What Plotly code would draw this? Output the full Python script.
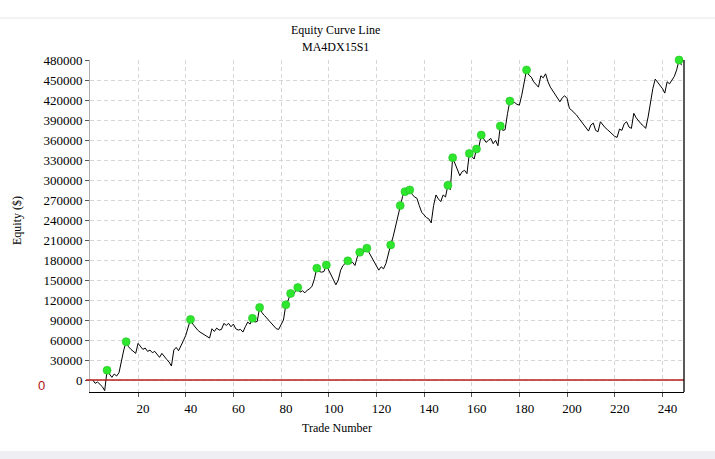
import plotly.graph_objects as go

equity = [
    0, -5000, -3000, -7000, -10000, -16000, 14600, 9000, 4000, 9000,
    6000, 11000, 30000, 45000, 57500, 50000, 46000, 43000, 40000, 55000,
    50000, 46000, 48000, 43000, 45000, 41000, 43000, 38000, 34000, 40000,
    35000, 31000, 27000, 21000, 45000, 49000, 44000, 53000, 59000, 67000,
    80000, 91000, 84000, 79000, 75000, 72000, 70000, 67000, 65000, 63000,
    77000, 73000, 78000, 75000, 76000, 85000, 82000, 85000, 80000, 84000,
    77000, 75000, 76000, 72000, 80000, 87000, 84000, 92700, 87000, 88000,
    109000, 101000, 97000, 93000, 89000, 85000, 81000, 77000, 76000, 82000,
    90000, 113000, 120000, 130000, 128000, 133000, 139000, 132000, 134000, 131000,
    135000, 137000, 141000, 152000, 168000, 163000, 162000, 163000, 172800, 165000,
    157000, 150000, 143000, 150000, 165000, 172000, 176000, 179000, 175000, 177000,
    172000, 185000, 191800, 190000, 193000, 198000, 191000, 185000, 178000, 172000,
    165000, 170000, 167000, 175000, 190000, 203000, 215000, 230000, 245000, 262000,
    276000, 283000, 279000, 285500, 279000, 275000, 273000, 262000, 252000, 248000,
    244000, 242000, 236000, 262000, 278000, 272000, 268000, 278000, 275000, 292500,
    286000, 334000, 325000, 318000, 307000, 313000, 315000, 310000, 340400, 336000,
    332000, 347000, 350000, 368000, 362000, 357000, 360000, 363000, 355000, 360000,
    352000, 381600, 375000, 376000, 400000, 419000, 416000, 417000, 414000, 413000,
    428000, 445000, 465700, 458000, 455000, 448000, 444000, 440000, 457000, 454000,
    460000, 448000, 440000, 434000, 428000, 422000, 418000, 424000, 427000, 423000,
    408000, 405000, 402000, 398000, 393000, 388000, 384000, 379000, 374000, 383000,
    386000, 375000, 373000, 388000, 383000, 379000, 376000, 373000, 369000, 366000,
    364500, 377000, 375000, 385000, 388000, 380000, 378000, 400600, 394000, 389000,
    385000, 382000, 378000, 395000, 420000, 438000, 452000, 447000, 443000, 438000,
    431000, 448000, 445000, 451000, 456000, 466000, 480700, 473000,
]
trade_numbers = list(range(1, len(equity) + 1))

peak_trades = [7, 15, 42, 68, 71, 82, 84, 87, 95, 99, 108, 113, 116, 126, 130,
               132, 134, 150, 152, 159, 162, 164, 172, 176, 183, 247]
peak_values = [equity[t - 1] for t in peak_trades]

x_ticks = list(range(20, 241, 20))
y_ticks = list(range(0, 480001, 30000))

title_text = "Equity Curve Line"
subtitle_text = "MA4DX15S1"
x_title = "Trade Number"
y_title = "Equity ($)"

FONT = "Liberation Serif, Times New Roman, serif"

fig = go.Figure()
fig.add_trace(go.Scatter(
    x=trade_numbers, y=equity, mode="lines",
    line=dict(color="black", width=1), hoverinfo="skip", showlegend=False,
    cliponaxis=False,
))
fig.add_trace(go.Scatter(
    x=peak_trades, y=peak_values, mode="markers",
    marker=dict(color="#2ee62e", size=8, line=dict(color="#1fc41f", width=0.6)),
    showlegend=False, cliponaxis=False,
))

fig.update_layout(
    width=715, height=459,
    margin=dict(l=90, r=31, t=60, b=67),
    paper_bgcolor="white", plot_bgcolor="white",
    font=dict(family=FONT, size=12, color="black"),
    showlegend=False,
    xaxis=dict(
        range=[-0.17, 249.07], tickvals=x_ticks, ticktext=[str(v) for v in x_ticks],
        showgrid=True, gridcolor="#d6d6d6", griddash="4px,3px", gridwidth=1,
        showline=True, linecolor="black", linewidth=1,
        ticks="outside", ticklen=4, tickcolor="#555555",
        tickfont=dict(family=FONT, size=13, color="black"),
        ticklabelshift=5, zeroline=False,
    ),
    yaxis=dict(
        range=[-18030, 480750], tickvals=y_ticks, ticktext=[str(v) for v in y_ticks],
        showgrid=True, gridcolor="#d6d6d6", griddash="4px,3px", gridwidth=1,
        showline=True, linecolor="#b0b0b0", linewidth=1,
        ticks="outside", ticklen=4, tickcolor="#555555",
        tickfont=dict(family=FONT, size=13, color="black"),
        zeroline=False,
    ),
    shapes=[
        dict(type="line", xref="paper", yref="y", x0=-0.0067, x1=1, y0=0, y1=0,
             line=dict(color="#b81c1c", width=1.3), layer="above"),
        dict(type="line", xref="paper", yref="paper", x0=1, x1=1, y0=0, y1=1,
             line=dict(color="black", width=1.3)),
        dict(type="line", xref="paper", yref="paper", x0=-0.2, x1=1.1, y0=1.1265, y1=1.1265,
             line=dict(color="#e6e6e6", width=1)),
        dict(type="rect", xref="paper", yref="paper", x0=-0.2, x1=1.1, y0=-0.2018, y1=-0.1777,
             fillcolor="#eeeef3", line=dict(width=0)),
    ],
    annotations=[
        dict(text=title_text, xref="paper", yref="paper", x=0.414, y=(392 - 30) / 332,
             showarrow=False, xanchor="center", yanchor="middle",
             font=dict(family=FONT, size=12, color="black")),
        dict(text=subtitle_text, xref="paper", yref="paper", x=0.414, y=(392 - 47) / 332,
             showarrow=False, xanchor="center", yanchor="middle",
             font=dict(family=FONT, size=12, color="black")),
        dict(text=x_title, xref="paper", yref="paper", x=(337 - 90) / 594, y=(392 - 428) / 332,
             showarrow=False, xanchor="center", yanchor="middle",
             font=dict(family=FONT, size=12, color="black")),
        dict(text=y_title, xref="paper", yref="paper", x=(17 - 90) / 594, y=(392 - 221) / 332,
             showarrow=False, xanchor="center", yanchor="middle", textangle=-90,
             font=dict(family=FONT, size=12, color="black")),
        dict(text="0", xref="paper", yref="paper", x=(41 - 90) / 594, y=(392 - 385) / 332,
             showarrow=False, xanchor="center", yanchor="middle",
             font=dict(family="Liberation Sans, sans-serif", size=13, color="#b01010")),
    ],
)

fig.write_html("out.html", config={"displayModeBar": False},
               post_script="document.body.style.margin='0px';")
